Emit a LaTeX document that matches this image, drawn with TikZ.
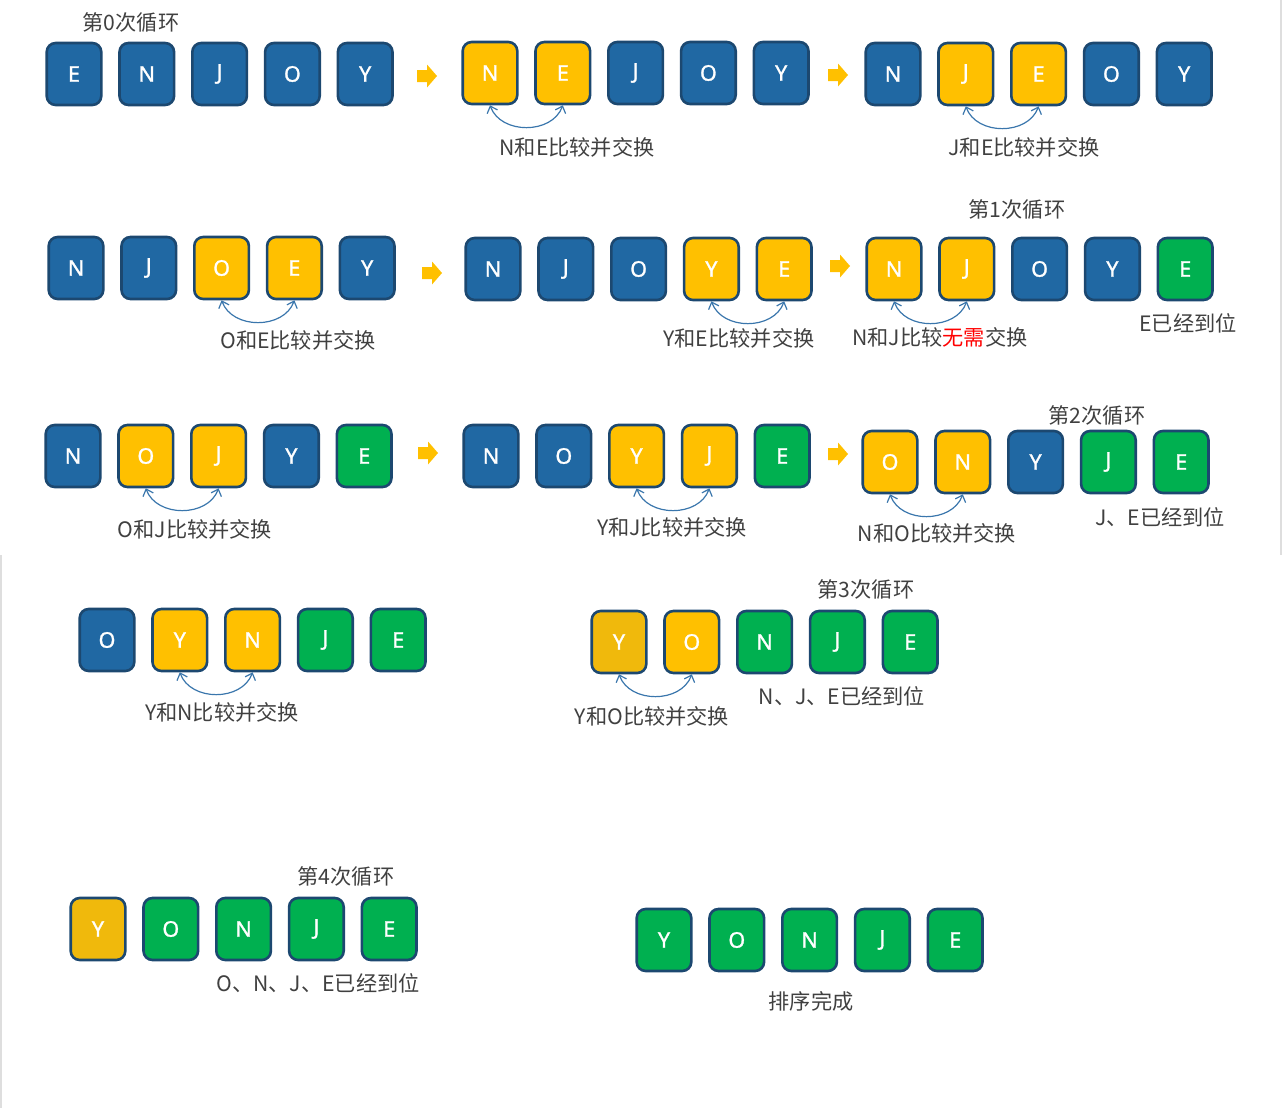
\documentclass[tikz,border=0pt]{standalone}
\usepackage{fontspec}
\setmainfont{Noto Sans CJK SC}
\newfontfamily\boxfont[FakeBold=1.2]{Noto Sans}
\usetikzlibrary{arrows.meta}
\definecolor{bblue}{RGB}{32,104,163}
\definecolor{bborder}{RGB}{28,72,112}
\definecolor{byellow}{RGB}{255,192,0}
\definecolor{bdyellow}{RGB}{240,185,12}
\definecolor{bgreen}{RGB}{0,176,80}
\definecolor{curvec}{RGB}{58,118,172}
\definecolor{txt}{RGB}{64,64,64}
\definecolor{edgegray}{RGB}{222,222,222}
\newcommand\boxrow[4]{%
  \foreach \l/\c [count=\i] in {#4}{
    \node[kbox,fill=\c] (#1\i) at ({#2+(\i-1)*72.8},#3) {\l};
  }}
\newcommand\fatarrow[2]{%
  \fill[byellow,shift={(#1,#2)}] (-10,-6) -- (0,-6) -- (0,-11.5) -- (10,0)
    -- (0,11.5) -- (0,6) -- (-10,6) -- cycle;}
\tikzset{
  kbox/.style={draw=bborder, line width=1.3pt, rounded corners=4.5pt,
    minimum width=27.3pt, minimum height=31pt, inner sep=0pt,
    text=white, font=\boxfont\fontsize{10.8}{12}\selectfont},
  lbl/.style={text=txt, inner sep=0pt, font=\fontsize{10.6}{13}\selectfont},
  swaparc/.style={draw=curvec, line width=0.6pt, out=-70, in=-110, looseness=1.1,
    {Straight Barb[length=3pt,width=5.5pt]}-{Straight Barb[length=3pt,width=5.5pt]}}
}
\begin{document}
\begin{tikzpicture}[x=0.5pt,y=-0.5pt]
\useasboundingbox (0,0) rectangle (1282,1108);
\draw[edgegray, line width=1pt] (1280.5,0) -- (1280.5,555);
\draw[edgegray, line width=1pt] (1,555) -- (1,1108);

% Row 1
\node[lbl] (t0) at (131,22) {第0次循环};
\boxrow{a}{74}{74}{E/bblue,N/bblue,J/bblue,O/bblue,Y/bblue}
\fatarrow{427}{76}
\boxrow{b}{490}{73}{N/byellow,E/byellow,J/bblue,O/bblue,Y/bblue}
\fatarrow{838}{75}
\boxrow{c}{893}{74}{N/bblue,J/byellow,E/byellow,O/bblue,Y/bblue}
\draw[swaparc] (b1.south) to (b2.south);
\draw[swaparc] (c2.south) to (c3.south);
\node[lbl] (lb) at (577,147) {N和E比较并交换};
\node[lbl] (lc) at (1024,147) {J和E比较并交换};

% Row 2
\node[lbl] (t1) at (1017,209) {第1次循环};
\boxrow{d}{76}{268}{N/bblue,J/bblue,O/byellow,E/byellow,Y/bblue}
\fatarrow{432}{273}
\boxrow{e}{493}{269}{N/bblue,J/bblue,O/bblue,Y/byellow,E/byellow}
\fatarrow{840}{266}
\boxrow{f}{894}{269}{N/byellow,J/byellow,O/bblue,Y/bblue,E/bgreen}
\draw[swaparc] (d3.south) to (d4.south);
\draw[swaparc] (e4.south) to (e5.south);
\draw[swaparc] (f1.south) to (f2.south);
\node[lbl] (ld) at (298,340) {O和E比较并交换};
\node[lbl] (le) at (739,338) {Y和E比较并交换};
\node[lbl] (lf) at (940,337) {N和J比较{\color{red}无需}交换};
\node[lbl] (lf2) at (1188,323) {E已经到位};

% Row 3
\node[lbl] (t2) at (1097,415) {第2次循环};
\boxrow{g}{73}{456}{N/bblue,O/byellow,J/byellow,Y/bblue,E/bgreen}
\fatarrow{428}{453}
\boxrow{h}{491}{456}{N/bblue,O/bblue,Y/byellow,J/byellow,E/bgreen}
\fatarrow{838}{454}
\boxrow{k}{890}{462}{O/byellow,N/byellow,Y/bblue,J/bgreen,E/bgreen}
\draw[swaparc] (g2.south) to (g3.south);
\draw[swaparc] (h3.south) to (h4.south);
\draw[swaparc] (k1.south) to (k2.south);
\node[lbl] (lg) at (195,529) {O和J比较并交换};
\node[lbl] (lh) at (672,527) {Y和J比较并交换};
\node[lbl] (lk) at (937,533) {N和O比较并交换};
\node[lbl] (lk2) at (1160,517) {J、E已经到位};

% Row 4
\boxrow{m}{107}{640}{O/bblue,Y/byellow,N/byellow,J/bgreen,E/bgreen}
\draw[swaparc] (m2.south) to (m3.south);
\node[lbl] (lm) at (222,712) {Y和N比较并交换};
\node[lbl] (t3) at (866,589) {第3次循环};
\boxrow{n}{619}{642}{Y/bdyellow,O/byellow,N/bgreen,J/bgreen,E/bgreen}
\draw[swaparc] (n1.south) to (n2.south);
\node[lbl] (ln) at (652,716) {Y和O比较并交换};
\node[lbl] (ln2) at (842,696) {N、J、E已经到位};

% Row 5
\node[lbl] (t4) at (346,876) {第4次循环};
\boxrow{p}{98}{929}{Y/bdyellow,O/bgreen,N/bgreen,J/bgreen,E/bgreen}
\node[lbl] (lp) at (318,983) {O、N、J、E已经到位};
\boxrow{q}{664}{940}{Y/bgreen,O/bgreen,N/bgreen,J/bgreen,E/bgreen}
\node[lbl] (lq) at (811,1001) {排序完成};
\end{tikzpicture}
\end{document}
